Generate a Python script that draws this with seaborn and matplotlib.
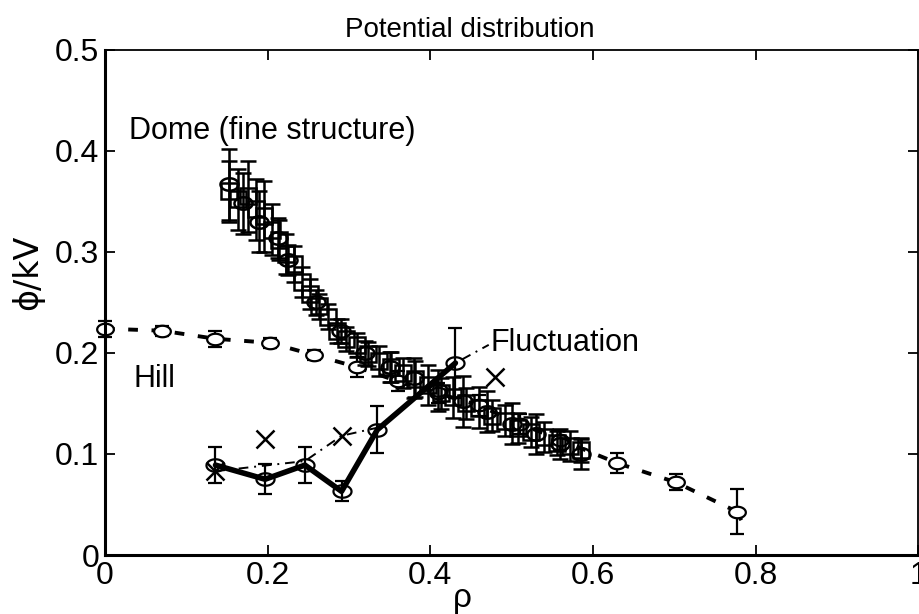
import numpy as np
import pandas as pd
import seaborn as sns
import matplotlib
import matplotlib.pyplot as plt
from matplotlib.path import Path
import matplotlib.ticker as ticker

# values (rho, phi in kV)
hill_x = [0.0, 0.07, 0.136, 0.203, 0.257, 0.31, 0.36, 0.41, 0.46, 0.51, 0.56, 0.63, 0.702, 0.777]
hill_y = [0.224, 0.222, 0.214, 0.21, 0.198, 0.186, 0.172, 0.16, 0.148, 0.13, 0.114, 0.091, 0.072, 0.043]
hill_err = [0.008, 0.005, 0.008, 0.005, 0.005, 0.01, 0.01, 0.01, 0.01, 0.01, 0.01, 0.01, 0.008, 0.022]
hill_tail_x = [0.777, 0.79]
hill_tail_y = [0.043, 0.023]

dome_sq_x = [0.153, 0.164, 0.176, 0.186, 0.196, 0.205, 0.214, 0.223, 0.232, 0.242, 0.252,
             0.263, 0.274, 0.285, 0.297, 0.310, 0.323, 0.337, 0.352, 0.366, 0.381, 0.397,
             0.413, 0.428, 0.444, 0.460, 0.476, 0.492, 0.508, 0.524, 0.540, 0.556, 0.572, 0.585]
dome_sq_y = [0.36, 0.352, 0.355, 0.342, 0.335, 0.322, 0.312, 0.298, 0.288, 0.27, 0.258,
             0.246, 0.236, 0.222, 0.214, 0.208, 0.199, 0.192, 0.186, 0.18, 0.174, 0.168,
             0.16, 0.156, 0.15, 0.146, 0.138, 0.133, 0.126, 0.122, 0.117, 0.111, 0.108, 0.104]
dome_sq_err = [0.03, 0.03, 0.035, 0.03, 0.035, 0.025, 0.02, 0.02, 0.018, 0.015, 0.015,
               0.012, 0.012, 0.012, 0.012, 0.012, 0.012, 0.015, 0.015, 0.015, 0.018, 0.02,
               0.015, 0.02, 0.015, 0.02, 0.015, 0.015, 0.015, 0.015, 0.015, 0.012, 0.015, 0.012]

dome_ci_x = [0.153, 0.17, 0.19, 0.213, 0.225, 0.26, 0.29, 0.32, 0.35, 0.38, 0.41,
             0.44, 0.47, 0.5, 0.53, 0.56, 0.585]
dome_ci_y = [0.367, 0.348, 0.33, 0.314, 0.292, 0.25, 0.222, 0.2, 0.186, 0.175, 0.163,
             0.152, 0.142, 0.13, 0.12, 0.11, 0.1]
dome_ci_err = [0.035, 0.03, 0.03, 0.02, 0.015, 0.012, 0.012, 0.012, 0.015, 0.02, 0.02,
               0.025, 0.02, 0.02, 0.02, 0.015, 0.015]

fluc_x = [0.136, 0.197, 0.246, 0.291, 0.335, 0.431]
fluc_y = [0.089, 0.075, 0.089, 0.063, 0.124, 0.19]
fluc_err = [0.018, 0.015, 0.018, 0.01, 0.023, 0.035]

cross_x = [0.136, 0.197, 0.291, 0.48]
cross_y = [0.083, 0.115, 0.118, 0.176]
dashdot_x = [0.136, 0.246, 0.291, 0.335, 0.431, 0.472]
dashdot_y = [0.083, 0.093, 0.118, 0.126, 0.19, 0.208]

sns.set_theme(style="ticks")
plt.rcParams["font.family"] = ["Liberation Sans", "DejaVu Sans"]
plt.rcParams["text.color"] = "black"
plt.rcParams["axes.labelcolor"] = "black"

# horizontally stretched open circle, like the scan
t = np.linspace(0, 2 * np.pi, 60)
ellipse = Path(np.column_stack([1.45 * np.cos(t), np.sin(t)]), closed=True)

fig = plt.figure(figsize=(9.2, 6.14), dpi=100)
ax = fig.add_axes([0.114, 0.096, 0.884, 0.823])

# hill
sns.lineplot(x=hill_x, y=hill_y, ax=ax, color="black", lw=2.8, dashes=(2.5, 3.5), sort=False)
ax.plot(hill_tail_x, hill_tail_y, color="black", lw=2.8, dashes=(2.5, 3.5))
ax.errorbar(hill_x, hill_y, yerr=hill_err, fmt="none", ecolor="black", elinewidth=1.6,
            capsize=5, capthick=1.6, clip_on=False)
ax.plot(hill_x, hill_y, ls="none", marker=ellipse, ms=12, mfc="white", mec="black",
        mew=1.6, clip_on=False)

# dome (fine structure)
ax.errorbar(dome_sq_x, dome_sq_y, yerr=dome_sq_err, fmt="none", ecolor="black",
            elinewidth=1.8, capsize=6, capthick=1.8)
ax.errorbar(dome_ci_x, dome_ci_y, yerr=dome_ci_err, fmt="none", ecolor="black",
            elinewidth=1.8, capsize=6, capthick=1.8)
ax.plot(dome_sq_x, dome_sq_y, ls="none", marker="s", ms=11, mfc="none", mec="black", mew=1.8)
ax.plot(dome_ci_x, dome_ci_y, ls="none", marker=ellipse, ms=13, mfc="none", mec="black", mew=1.8)

# fluctuation
sns.lineplot(x=dashdot_x, y=dashdot_y, ax=ax, color="black", lw=1.4, sort=False,
             dashes=(5, 3, 1, 3))
sns.lineplot(x=fluc_x, y=fluc_y, ax=ax, color="black", lw=4, sort=False)
ax.errorbar(fluc_x, fluc_y, yerr=fluc_err, fmt="none", ecolor="black", elinewidth=1.6,
            capsize=5, capthick=1.6)
ax.plot(fluc_x, fluc_y, ls="none", marker=ellipse, ms=13, mfc="none", mec="black", mew=1.6)
ax.plot(cross_x, cross_y, ls="none", marker="x", ms=13, color="black", mew=1.8)

ax.set_xlim(0, 1)
ax.set_ylim(0, 0.5)
ax.xaxis.set_major_locator(ticker.MultipleLocator(0.2))
ax.yaxis.set_major_locator(ticker.MultipleLocator(0.1))
fmt = ticker.FuncFormatter(lambda v, p: f"{v:g}")
ax.xaxis.set_major_formatter(fmt)
ax.yaxis.set_major_formatter(fmt)
ax.tick_params(direction="in", length=7, width=1.3, top=True, right=True,
               labelsize=23, pad=4, colors="black")
for side, sp in ax.spines.items():
    sp.set_color("black")
    sp.set_linewidth(2.2 if side in ("left", "bottom") else 1.3)

ax.set_xlabel("ρ", fontsize=24)
ax.xaxis.set_label_coords(0.439, -0.055)
ax.set_ylabel("ϕ/kV", fontsize=24, family=["DejaVu Sans"])
ax.yaxis.set_label_coords(-0.075, 0.56)

ax.text(0.03, 0.42, "Dome (fine structure)", fontsize=22, va="center")
ax.text(0.035, 0.174, "Hill", fontsize=22, va="center")
ax.text(0.474, 0.21, "Fluctuation", fontsize=22, va="center")
fig.text(470 / 920, 1 - 30 / 614, "Potential distribution", fontsize=20,
         ha="center", va="center")

fig.savefig("out.png", dpi=100)
